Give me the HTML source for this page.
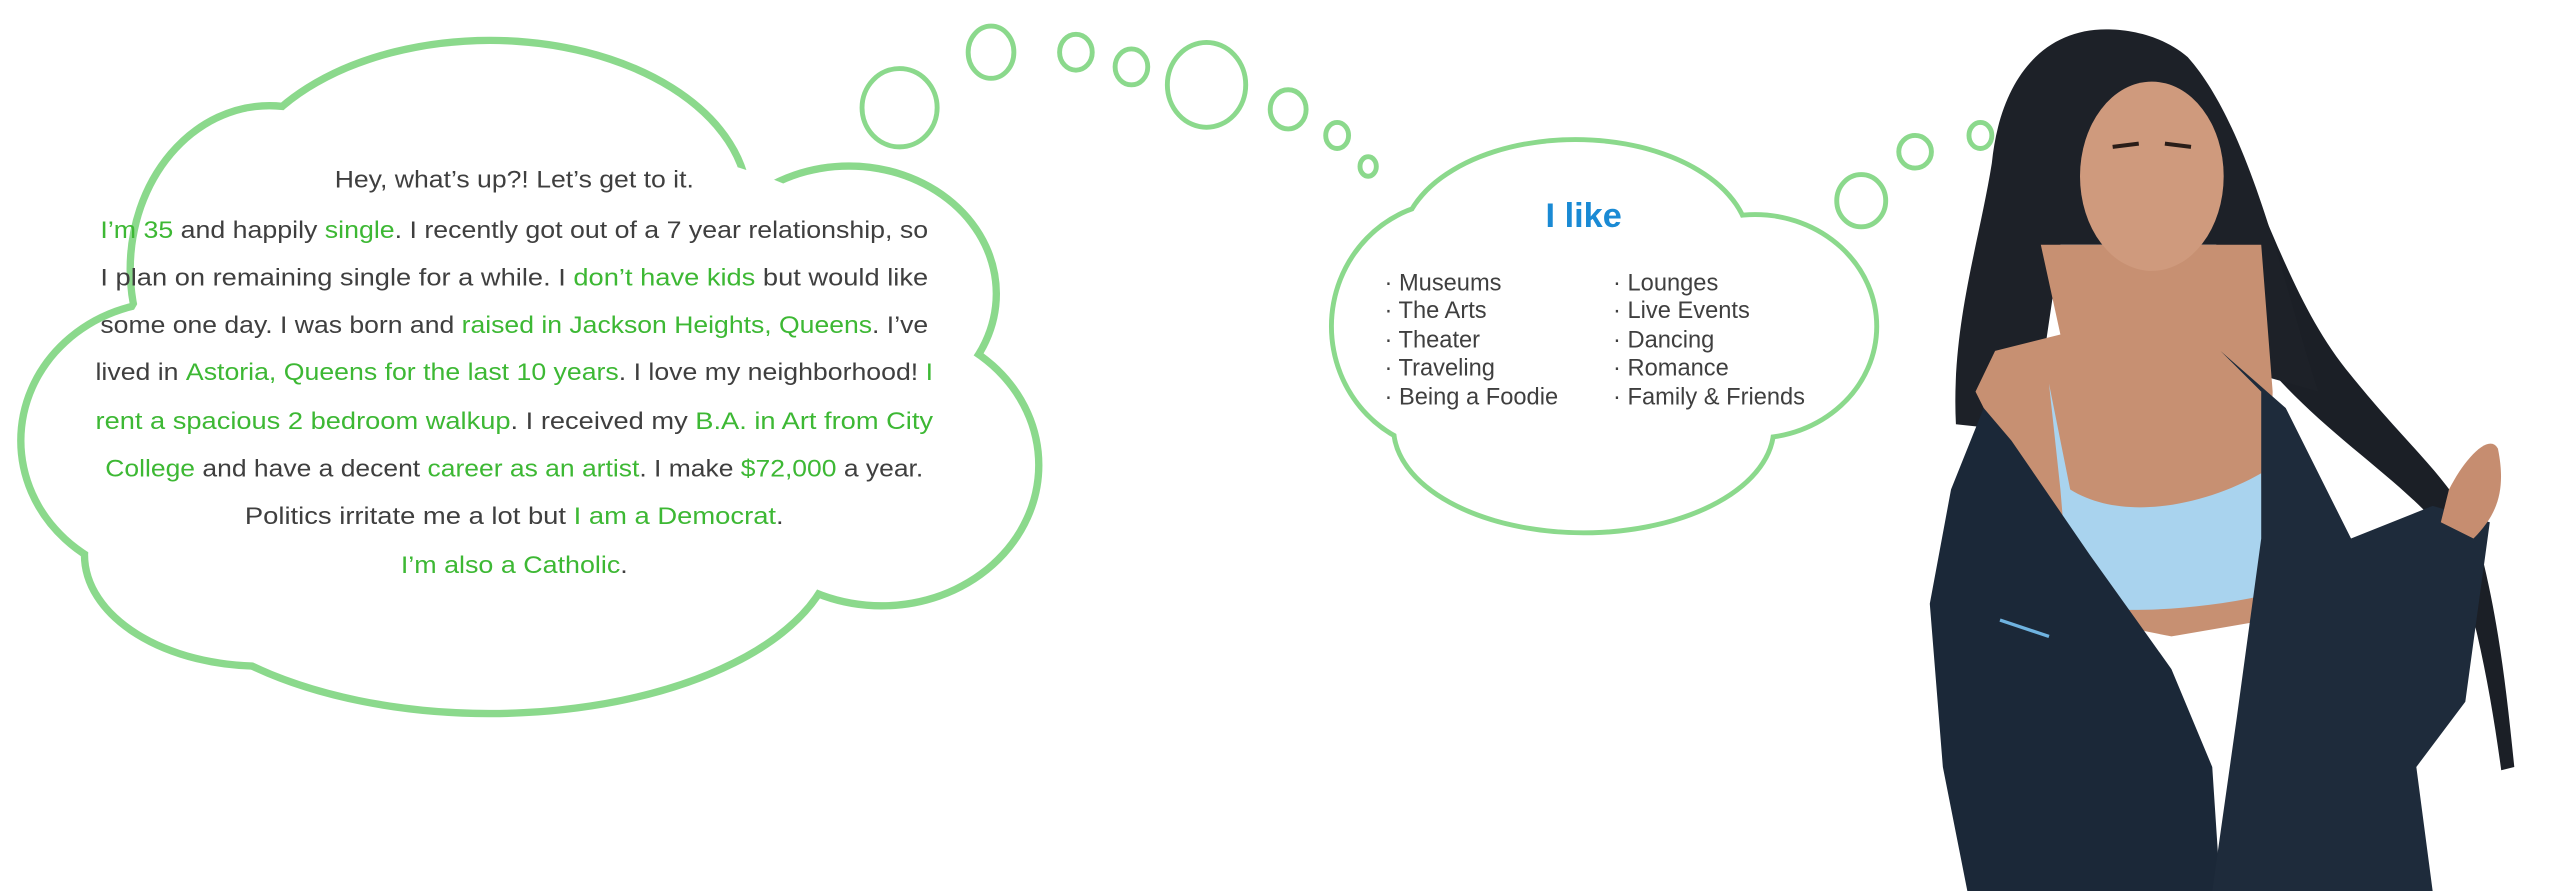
<!DOCTYPE html>
<html><head><meta charset="utf-8"><style>
html,body{margin:0;padding:0;background:#fff;}
svg{display:block;}
</style></head><body>
<svg width="2560" height="891" viewBox="0 0 1568 546" preserveAspectRatio="none" xmlns="http://www.w3.org/2000/svg">
<g fill="none" stroke="#8bd98c" stroke-width="9">
 <ellipse cx="300" cy="125" rx="156" ry="98"/>
 <ellipse cx="165" cy="165" rx="83" ry="98"/>
 <ellipse cx="105" cy="270" rx="90" ry="83"/>
 <ellipse cx="300" cy="330" rx="210" ry="105"/>
 <ellipse cx="520" cy="180" rx="88" ry="76"/>
 <ellipse cx="540" cy="285" rx="94" ry="84"/>
 <ellipse cx="160" cy="340" rx="106" ry="66"/>
</g>
<g fill="#fff">
 <ellipse cx="300" cy="125" rx="156" ry="98"/>
 <ellipse cx="165" cy="165" rx="83" ry="98"/>
 <ellipse cx="105" cy="270" rx="90" ry="83"/>
 <ellipse cx="300" cy="330" rx="210" ry="105"/>
 <ellipse cx="520" cy="180" rx="88" ry="76"/>
 <ellipse cx="540" cy="285" rx="94" ry="84"/>
 <ellipse cx="160" cy="340" rx="106" ry="66"/>
 <ellipse cx="330" cy="235" rx="260" ry="150"/>
</g>
<g fill="none" stroke="#8bd98c" stroke-width="3">
 <ellipse cx="551" cy="66" rx="23" ry="24"/>
 <ellipse cx="607" cy="32" rx="14" ry="16"/>
 <ellipse cx="659" cy="32" rx="10" ry="11"/>
 <ellipse cx="693" cy="41" rx="10" ry="11"/>
 <ellipse cx="739" cy="52" rx="24" ry="26"/>
 <ellipse cx="789" cy="67" rx="11" ry="12"/>
 <ellipse cx="819" cy="83" rx="7" ry="8"/>
 <ellipse cx="838" cy="102" rx="5" ry="6"/>
 <ellipse cx="1140" cy="123" rx="15" ry="16"/>
 <ellipse cx="1173" cy="93" rx="10" ry="10"/>
 <ellipse cx="1213" cy="83" rx="7" ry="8"/>
</g>
<g fill="none" stroke="#8bd98c" stroke-width="6">
 <ellipse cx="965" cy="150" rx="105" ry="63"/>
 <ellipse cx="890" cy="200" rx="73" ry="75"/>
 <ellipse cx="1075" cy="200" rx="73" ry="67"/>
 <ellipse cx="970" cy="262" rx="115" ry="63"/>
</g>
<g fill="#fff">
 <ellipse cx="965" cy="150" rx="105" ry="63"/>
 <ellipse cx="890" cy="200" rx="73" ry="75"/>
 <ellipse cx="1075" cy="200" rx="73" ry="67"/>
 <ellipse cx="970" cy="262" rx="115" ry="63"/>
 <ellipse cx="980" cy="205" rx="140" ry="80"/>
</g>
<g font-family="Liberation Sans, sans-serif" font-size="14.5" fill="#3f3f3f" text-anchor="middle">
 <text x="315" y="115" textLength="220" lengthAdjust="spacingAndGlyphs">Hey, what’s up?! Let’s get to it.</text>
 <text x="315" y="146" textLength="507" lengthAdjust="spacingAndGlyphs"><tspan fill="#3db834">I’m 35</tspan> and happily <tspan fill="#3db834">single</tspan>. I recently got out of a 7 year relationship, so</text>
 <text x="315" y="175" textLength="507" lengthAdjust="spacingAndGlyphs">I plan on remaining single for a while. I <tspan fill="#3db834">don’t have kids</tspan> but would like</text>
 <text x="315" y="204" textLength="507" lengthAdjust="spacingAndGlyphs">some one day. I was born and <tspan fill="#3db834">raised in Jackson Heights, Queens</tspan>. I’ve</text>
 <text x="315" y="233" textLength="513" lengthAdjust="spacingAndGlyphs">lived in <tspan fill="#3db834">Astoria, Queens for the last 10 years</tspan>. I love my neighborhood! <tspan fill="#3db834">I</tspan></text>
 <text x="315" y="263" textLength="513" lengthAdjust="spacingAndGlyphs"><tspan fill="#3db834">rent a spacious 2 bedroom walkup</tspan>. I received my <tspan fill="#3db834">B.A. in Art from City</tspan></text>
 <text x="315" y="292" textLength="501" lengthAdjust="spacingAndGlyphs"><tspan fill="#3db834">College</tspan> and have a decent <tspan fill="#3db834">career as an artist</tspan>. I make <tspan fill="#3db834">$72,000</tspan> a year.</text>
 <text x="315" y="321" textLength="330" lengthAdjust="spacingAndGlyphs">Politics irritate me a lot but <tspan fill="#3db834">I am a Democrat</tspan>.</text>
 <text x="315" y="351" textLength="139" lengthAdjust="spacingAndGlyphs" fill="#3db834">I’m also a Catholic<tspan fill="#3f3f3f">.</tspan></text>
</g>
<text x="970" y="139" font-family="Liberation Sans, sans-serif" font-size="21" font-weight="bold" fill="#1a8ad4" text-anchor="middle">I like</text>
<g font-family="Liberation Sans, sans-serif" font-size="14.5" fill="#3f3f3f">
 <text x="848" y="178">· Museums</text>
 <text x="848" y="195">· The Arts</text>
 <text x="848" y="213">· Theater</text>
 <text x="848" y="230">· Traveling</text>
 <text x="848" y="248">· Being a Foodie</text>
 <text x="988" y="178">· Lounges</text>
 <text x="988" y="195">· Live Events</text>
 <text x="988" y="213">· Dancing</text>
 <text x="988" y="230">· Romance</text>
 <text x="988" y="248">· Family &amp; Friends</text>
</g>
<g>
 <path d="M1330,40 C1380,80 1390,170 1440,230 C1480,280 1510,300 1520,340 C1530,380 1535,420 1540,470 L1532,472 C1525,420 1515,370 1500,330 C1470,290 1410,260 1370,200 Z" fill="#1b1f26"/>
 <path d="M1290,18 C1250,18 1225,50 1220,100 C1212,150 1195,200 1198,260 L1245,265 L1262,150 L1370,150 L1385,230 L1420,240 C1400,180 1380,80 1340,35 C1325,22 1305,18 1290,18 Z" fill="#1d2128"/>
 <path d="M1250,150 L1385,150 L1392,240 L1388,380 L1330,390 L1280,380 L1240,300 L1210,240 L1222,215 L1262,205 Z" fill="#c79072"/>
 <ellipse cx="1318" cy="108" rx="44" ry="58" fill="#cf9a7d"/>
 <path d="M1294,90 L1310,88 M1326,88 L1342,90" stroke="#2a1d18" stroke-width="2.5"/>
 <path d="M1255,235 L1268,300 C1300,320 1350,310 1385,290 L1386,365 C1340,375 1300,375 1268,372 L1262,300 Z" fill="#a9d3ee"/>
 <path d="M1215,250 L1232,270 L1280,340 L1330,410 L1355,470 L1360,546 L1205,546 L1190,470 L1182,370 L1195,300 Z" fill="#1b2838"/>
 <path d="M1360,215 L1400,250 L1440,330 L1490,310 L1525,320 L1510,430 L1480,470 L1490,546 L1355,546 L1370,440 L1385,330 L1385,240 Z" fill="#1e2b3b"/>
 <path d="M1225,380 L1255,390" stroke="#6fb3e0" stroke-width="2"/>
 <path d="M1500,300 C1510,280 1525,265 1530,275 C1535,300 1530,315 1515,330 L1495,320 Z" fill="#c68d70"/>
</g>
</svg>
</body></html>
